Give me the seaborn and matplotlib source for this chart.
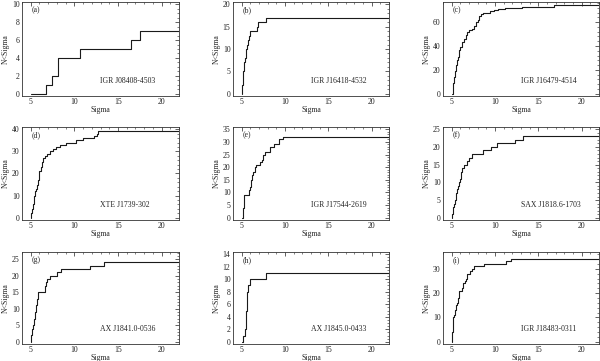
import numpy as np
import pandas as pd
import matplotlib
matplotlib.use("Agg")
import matplotlib.pyplot as plt
import seaborn as sns
from matplotlib.ticker import MultipleLocator, AutoMinorLocator

sns.set_theme(style="white")
plt.rcParams['font.family'] = ['Liberation Serif', 'DejaVu Serif']

# Panel letters and source names
letters = ["(a)", "(b)", "(c)", "(d)", "(e)", "(f)", "(g)", "(h)", "(i)"]
sources = ["IGR J08408-4503", "IGR J16418-4532", "IGR J16479-4514",
           "XTE J1739-302", "IGR J17544-2619", "SAX J1818.6-1703",
           "AX J1841.0-0536", "AX J1845.0-0433", "IGR J18483-0311"]

# Step data: sigma at which cumulative number changes, and the new count
a_sig = [5.0, 6.72, 7.45, 8.18, 10.7, 16.44, 17.48]
a_n   = [0, 1, 2, 4, 5, 6, 7]

b_sig = [5.0, 5.04, 5.08, 5.12, 5.16, 5.2, 5.26, 5.42, 5.47, 5.52, 5.6, 5.7, 5.8, 5.93, 6.75, 6.85, 7.76]
b_n   = [0, 1, 2, 3, 4, 5, 7, 8, 9, 10, 11, 12, 13, 14, 15, 16, 17]

c_sig = [5.0, 5.1, 5.2, 5.3, 5.4, 5.5, 5.6, 5.7, 5.8, 5.9, 6.0, 6.2, 6.4, 6.6, 6.8, 7.0,
         7.3, 7.6, 7.8, 8.0, 8.2, 8.4, 8.6, 9.4, 9.9, 10.4, 11.2, 13.1, 16.8]
c_n   = [0, 4, 9, 14, 19, 24, 28, 31, 34, 37, 39, 43, 46, 49, 52, 53,
         54, 57, 60, 62, 65, 67, 68, 69, 70, 71, 72, 73, 74]

d_sig = [5.0, 5.08, 5.16, 5.24, 5.32, 5.4, 5.5, 5.6, 5.7, 5.8, 5.9, 6.0, 6.15, 6.3, 6.45,
         6.6, 6.9, 7.2, 7.5, 7.85, 8.3, 9.05, 10.2, 11.05, 12.3, 12.55, 12.7]
d_n   = [0, 2, 4, 6, 8, 10, 12, 13, 15, 17, 19, 21, 23, 25, 27,
         28, 29, 30, 31, 32, 33, 34, 35, 36, 37, 38, 39]

e_sig = [5.0, 5.1, 5.2, 5.3, 5.82, 5.9, 6.0, 6.1, 6.2, 6.35, 6.5, 6.7, 7.1, 7.3, 7.5, 7.7,
         8.3, 8.7, 9.25, 9.75]
e_n   = [0, 2, 4, 9, 10, 11, 12, 15, 17, 18, 20, 21, 22, 23, 25, 26,
         28, 29, 31, 32]

f_sig = [5.0, 5.05, 5.12, 5.2, 5.3, 5.38, 5.46, 5.55, 5.64, 5.73, 5.82, 5.92, 6.02, 6.12,
         6.22, 6.43, 6.82, 7.0, 7.3, 8.57, 9.55, 10.2, 12.25, 13.25]
f_n   = [0, 1, 2, 3, 4, 5, 6, 7, 8, 9, 10, 11, 12, 13,
         14, 15, 16, 17, 18, 19, 20, 21, 22, 23]

g_sig = [5.0, 5.03, 5.08, 5.14, 5.2, 5.26, 5.32, 5.38, 5.44, 5.5, 5.56, 5.62, 5.68, 5.74,
         5.8, 5.84, 6.67, 6.8, 6.9, 7.17, 8.0, 8.5, 11.74, 13.45]
g_n   = [0, 1, 2, 3, 4, 5, 6, 7, 8, 9, 10, 11, 12, 13,
         14, 15, 17, 18, 19, 20, 21, 22, 23, 24]

h_sig = [5.0, 5.15, 5.37, 5.45, 5.5, 5.55, 5.6, 5.65, 5.72, 5.98, 7.76]
h_n   = [0, 1, 2, 3, 4, 5, 7, 8, 9, 10, 11]

i_sig = [5.0, 5.02, 5.06, 5.1, 5.14, 5.19, 5.26, 5.33, 5.4, 5.47, 5.6, 5.74, 5.8, 5.85,
         6.24, 6.3, 6.36, 6.5, 6.63, 6.75, 6.82, 7.13, 7.33, 7.6, 8.76, 11.28, 11.86]
i_n   = [0, 2, 4, 6, 8, 10, 11, 12, 13, 15, 16, 18, 20, 21,
         22, 23, 24, 25, 26, 27, 28, 29, 30, 31, 32, 33, 34]

sigmas = [a_sig, b_sig, c_sig, d_sig, e_sig, f_sig, g_sig, h_sig, i_sig]
counts = [a_n, b_n, c_n, d_n, e_n, f_n, g_n, h_n, i_n]

ymaxs = [10, 20, 75, 40, 35, 25, 26.5, 14, 36]
ymajor = [2, 5, 20, 10, 5, 5, 5, 2, 10]
XMIN, XMAX = 4, 22

W, H = 600, 361
fig = plt.figure(figsize=(W / 100, H / 100), dpi=100)

col_left = [22, 233, 443]
col_w = [157, 156, 156]
row_top = [2, 127, 252]
row_h = [94, 93, 92]

FS = 5.6
for k in range(9):
    r, c = divmod(k, 3)
    ax = fig.add_axes([col_left[c] / W, 1 - (row_top[r] + row_h[r]) / H,
                       col_w[c] / W, row_h[r] / H])
    xs = list(sigmas[k]) + [XMAX]
    ys = list(counts[k]) + [counts[k][-1]]
    df = pd.DataFrame({"Sigma": xs, "N": ys})
    sns.lineplot(data=df, x="Sigma", y="N", ax=ax, estimator=None, sort=False,
                 drawstyle="steps-post", color="#1a1a1a", lw=0.8)
    ym = ymaxs[k]
    pad = 0.025 * ym
    ax.set_xlim(XMIN, XMAX)
    ax.set_ylim(-pad, ym + pad)
    ax.xaxis.set_major_locator(MultipleLocator(5))
    ax.xaxis.set_minor_locator(AutoMinorLocator(5))
    ax.yaxis.set_major_locator(MultipleLocator(ymajor[k]))
    ax.yaxis.set_minor_locator(AutoMinorLocator(5 if ymajor[k] != 2 else 4))
    ax.tick_params(which="both", direction="in", top=True, right=True,
                   labelsize=FS, colors="#222")
    ax.tick_params(axis="x", which="major", pad=1.2)
    ax.tick_params(axis="y", which="major", pad=1.8)
    ax.tick_params(which="major", length=3, width=0.5)
    ax.tick_params(which="minor", length=1.5, width=0.4)
    for s in ax.spines.values():
        s.set_color("#333")
        s.set_linewidth(0.6)
    ax.set_xlabel("Sigma", fontsize=FS, labelpad=0)
    ax.set_ylabel("N<Sigma", fontsize=FS, labelpad=1.5)
    ax.text(0.06, 0.91, letters[k], transform=ax.transAxes, fontsize=FS,
            ha="left", va="center")
    ax.text(0.50, 0.16, sources[k], transform=ax.transAxes, fontsize=FS,
            ha="left", va="center")
    ax.grid(False)

fig.savefig("out.png", dpi=100)
